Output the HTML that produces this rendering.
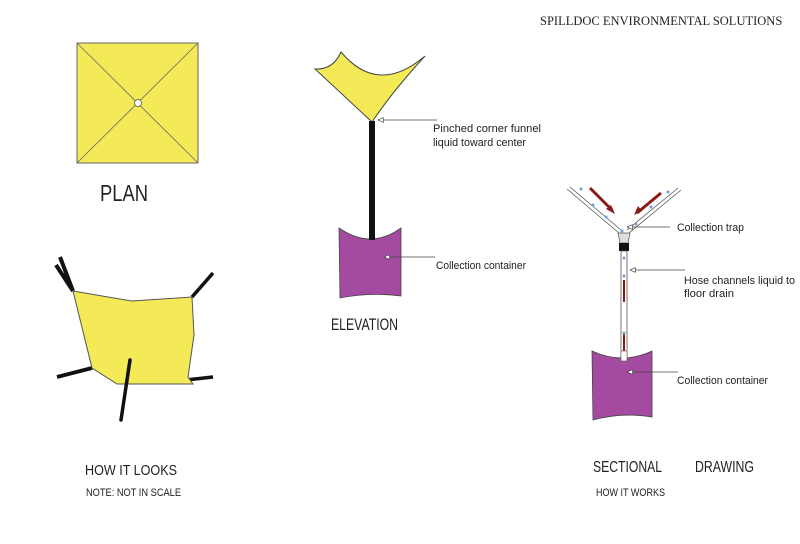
<!DOCTYPE html>
<html><head><style>
body{margin:0;background:#fff;}
svg{display:block}
text{font-family:"Liberation Sans",sans-serif;fill:#222}
</style></head><body>
<svg width="800" height="544" viewBox="0 0 800 544" xmlns="http://www.w3.org/2000/svg">
<defs>
<marker id="ah" markerWidth="8" markerHeight="6" refX="0" refY="3" orient="auto">
<path d="M0,3 L7,0 L7,6 Z" fill="#fff" stroke="#333" stroke-width="0.8"/>
</marker>
</defs>
<text x="540" y="25" style="font-family:'Liberation Serif',serif;font-size:12.5px" fill="#222">SPILLDOC ENVIRONMENTAL SOLUTIONS</text>

<!-- PLAN -->
<rect x="77" y="43" width="121" height="120" fill="#f4ea57" stroke="#666" stroke-width="1"/>
<line x1="77" y1="43" x2="198" y2="163" stroke="#666" stroke-width="0.8"/>
<line x1="198" y1="43" x2="77" y2="163" stroke="#666" stroke-width="0.8"/>
<circle cx="138" cy="103" r="3.5" fill="#fff" stroke="#555" stroke-width="0.8"/>
<text x="100" y="201" style="font-size:23px" fill="#333" textLength="48" lengthAdjust="spacingAndGlyphs">PLAN</text>

<!-- HOW IT LOOKS -->
<path d="M60,257 L73,291 M56,265 L73,291" stroke="#111" stroke-width="4"/>
<line x1="192" y1="297" x2="213" y2="273" stroke="#111" stroke-width="3.5"/>
<line x1="92" y1="368" x2="57" y2="377" stroke="#111" stroke-width="4"/>
<line x1="186" y1="380" x2="213" y2="377" stroke="#111" stroke-width="3.5"/>
<polygon points="73,291 132,301 192,297 194,335 188,377 193,384 117,384 92,368" fill="#f4ea57" stroke="#555" stroke-width="1"/>
<line x1="130" y1="360" x2="121" y2="420" stroke="#111" stroke-width="3.5" stroke-linecap="round"/>
<text x="85" y="475" style="font-size:15px" fill="#333" textLength="92" lengthAdjust="spacingAndGlyphs">HOW IT LOOKS</text>
<text x="86" y="496" style="font-size:11px" fill="#333" textLength="95" lengthAdjust="spacingAndGlyphs">NOTE: NOT IN SCALE</text>

<!-- ELEVATION -->
<path d="M315,69 Q333,70 341,52 Q378,96 425,56 Q392,92 372,122 Z" fill="#f4ea57" stroke="#444" stroke-width="1"/>
<rect x="369" y="121" width="6" height="120" fill="#111"/>
<path d="M339,228 Q371,250 401,228 L401,296 Q371,292 340,298 Z" fill="#a44aa0" stroke="#444" stroke-width="0.8"/>
<rect x="369" y="228" width="6" height="12" fill="#111"/>
<line x1="378" y1="120" x2="437" y2="120" stroke="#444" stroke-width="0.8" marker-start="url(#ah)"/>
<text x="433" y="132" style="font-size:11px" textLength="108" lengthAdjust="spacingAndGlyphs">Pinched corner funnel</text>
<text x="433" y="146" style="font-size:11px" textLength="93" lengthAdjust="spacingAndGlyphs">liquid toward center</text>
<line x1="384" y1="257" x2="435" y2="257" stroke="#444" stroke-width="0.8" marker-start="url(#ah)"/>
<text x="436" y="269" style="font-size:11px" textLength="90" lengthAdjust="spacingAndGlyphs">Collection container</text>
<text x="331" y="330" style="font-size:17px" fill="#333" textLength="67" lengthAdjust="spacingAndGlyphs">ELEVATION</text>

<!-- SECTIONAL -->
<g stroke="#555" stroke-width="0.8" fill="none">
<path d="M567,189 L619,233 M570,187 L621,230"/>
<path d="M681,190 L629,233 M678,188 L627,230"/>
</g>
<path d="M618,233 L630,233 L628,243 L620,243 Z" fill="#ddd" stroke="#555" stroke-width="0.7"/>
<rect x="619" y="243" width="10" height="8" fill="#111"/>
<rect x="621" y="251" width="6" height="110" fill="#fff" stroke="#555" stroke-width="0.8"/>
<line x1="624" y1="280" x2="624" y2="302" stroke="#8b1a1a" stroke-width="2"/>
<line x1="624" y1="332" x2="624" y2="352" stroke="#8b1a1a" stroke-width="2"/>
<path d="M592,351 Q622,365 652,351 L652,417 Q622,412 593,420 Z" fill="#a44aa0" stroke="#444" stroke-width="0.8"/>
<rect x="621" y="351" width="6" height="10" fill="#fff" stroke="#555" stroke-width="0.6"/>
<g stroke="#8b1a1a" stroke-width="3">
<line x1="590" y1="188" x2="612" y2="210"/>
<line x1="661" y1="193" x2="637" y2="213"/>
</g>
<path d="M615,214 L606,209 L611,205 Z" fill="#8b1a1a"/>
<path d="M634,215 L638,206 L642,211 Z" fill="#8b1a1a"/>
<g fill="#6fa0d8">
<circle cx="581" cy="189" r="1.5"/><circle cx="593" cy="205" r="1.5"/><circle cx="606" cy="217" r="1.5"/>
<circle cx="668" cy="192" r="1.5"/><circle cx="651" cy="207" r="1.5"/><circle cx="636" cy="224" r="1.5"/>
<circle cx="622" cy="231" r="1.5"/><circle cx="624" cy="258" r="1.5"/><circle cx="624" cy="276" r="1.5"/><circle cx="624" cy="333" r="1.5"/>
</g>
<line x1="627" y1="227" x2="670" y2="227" stroke="#444" stroke-width="0.8" marker-start="url(#ah)"/>
<text x="677" y="231" style="font-size:11px" textLength="67" lengthAdjust="spacingAndGlyphs">Collection trap</text>
<line x1="630" y1="270" x2="685" y2="270" stroke="#444" stroke-width="0.8" marker-start="url(#ah)"/>
<text x="684" y="284" style="font-size:11px" textLength="111" lengthAdjust="spacingAndGlyphs">Hose channels liquid to</text>
<text x="684" y="297" style="font-size:11px" textLength="50" lengthAdjust="spacingAndGlyphs">floor drain</text>
<line x1="627" y1="372" x2="678" y2="372" stroke="#444" stroke-width="0.8" marker-start="url(#ah)"/>
<text x="677" y="384" style="font-size:11px" textLength="91" lengthAdjust="spacingAndGlyphs">Collection container</text>
<text x="593" y="472" style="font-size:16px" fill="#333" textLength="69" lengthAdjust="spacingAndGlyphs">SECTIONAL</text>
<text x="695" y="472" style="font-size:16px" fill="#333" textLength="59" lengthAdjust="spacingAndGlyphs">DRAWING</text>
<text x="596" y="496" style="font-size:11px" fill="#333" textLength="69" lengthAdjust="spacingAndGlyphs">HOW IT WORKS</text>
</svg>
</body></html>
